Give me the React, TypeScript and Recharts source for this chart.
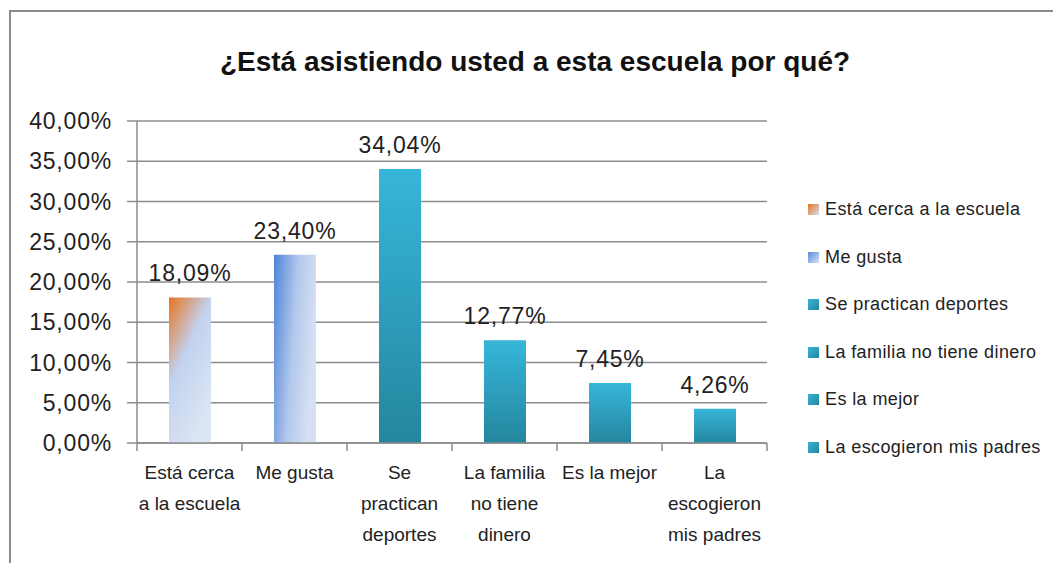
import React from 'react';
import { BarChart, Bar, XAxis, YAxis, CartesianGrid, Cell, LabelList, Legend } from 'recharts';

const categories = [
  'Está cerca a la escuela',
  'Me gusta',
  'Se practican deportes',
  'La familia no tiene dinero',
  'Es la mejor',
  'La escogieron mis padres',
];
const tickLines = [
  ['Está cerca', 'a la escuela'],
  ['Me gusta'],
  ['Se', 'practican', 'deportes'],
  ['La familia', 'no tiene', 'dinero'],
  ['Es la mejor'],
  ['La', 'escogieron', 'mis padres'],
];
const values = [18.09, 23.4, 34.04, 12.77, 7.45, 4.26];
const yTicks = [0, 5, 10, 15, 20, 25, 30, 35, 40];
const fills = ['url(#gOrange)', 'url(#gBlue)', 'url(#gTeal)', 'url(#gTeal)', 'url(#gTeal)', 'url(#gTeal)'];

const data = categories.map((name, i) => ({ name, value: values[i], idx: i }));

const font = '"Liberation Sans", Arial, sans-serif';
const pct = (v: number) => v.toFixed(2).replace('.', ',') + '%';

const XTick = (props: any) => {
  const { x, y, index, width } = props;
  const lines = tickLines[index] || [];
  const half = width / tickLines.length / 2;
  return (
    <g>
      <line x1={x - half} x2={x - half} y1={y - 8} y2={y} stroke="#8c8c8c" strokeWidth={1.5} />
      {index === tickLines.length - 1 && (
        <line x1={x + half} x2={x + half} y1={y - 8} y2={y} stroke="#8c8c8c" strokeWidth={1.5} />
      )}
      {lines.map((l, k) => (
        <text key={k} x={x} y={y + 28 + k * 31} textAnchor="middle" fontSize={19} fill="#222" fontFamily={font}>
          {l}
        </text>
      ))}
    </g>
  );
};

const LegendBox = () => (
  <div style={{ fontFamily: font, fontSize: 18, letterSpacing: 0.4, color: '#222' }}>
    {categories.map((c, i) => (
      <div key={c} style={{ display: 'flex', alignItems: 'center', height: 47.5 }}>
        <svg width={11} height={11} style={{ marginRight: 6 }}>
          <defs>
            <linearGradient id={'lg' + i} x1="0" y1="0" x2="1" y2="1">
              <stop offset="0" stopColor={i === 0 ? '#e8731f' : i === 1 ? '#5a8bd9' : '#36b6da'} />
              <stop offset="1" stopColor={i < 2 ? '#d5e0f2' : '#25869e'} />
            </linearGradient>
          </defs>
          <rect width={11} height={11} fill={'url(#lg' + i + ')'} />
        </svg>
        {c}
      </div>
    ))}
  </div>
);

export default function App() {
  return (
    <div style={{ position: 'absolute', left: 0, top: 0, width: 1053, height: 563, background: '#fff', overflow: 'hidden' }}>
      <div style={{ position: 'absolute', left: 9, top: 10, width: 1100, height: 600, borderTop: '2px solid #8a8a8a', borderLeft: '2px solid #8a8a8a' }} />
      <div style={{ position: 'absolute', left: 0, width: 1070, top: 46, textAlign: 'center', fontFamily: font, fontSize: 28, fontWeight: 'bold', color: '#111' }}>
        ¿Está asistiendo usted a esta escuela por qué?
      </div>
      <div style={{ position: 'absolute', left: 0, top: 0 }}>
        <BarChart width={1053} height={563} data={data} margin={{ top: 121, right: 41, bottom: 0, left: 10 }}>
          <defs>
            <linearGradient id="gOrange" x1="0" y1="0" x2="0.6" y2="1">
              <stop offset="0" stopColor="#e8731f" />
              <stop offset="0.45" stopColor="#c2d2ee" />
              <stop offset="1" stopColor="#dce5f4" />
            </linearGradient>
            <linearGradient id="gBlue" x1="0" y1="0" x2="1" y2="0.3">
              <stop offset="0" stopColor="#4f84d8" />
              <stop offset="0.55" stopColor="#b3c8ec" />
              <stop offset="1" stopColor="#d5e0f2" />
            </linearGradient>
            <linearGradient id="gTeal" x1="0" y1="0" x2="0" y2="1">
              <stop offset="0" stopColor="#36b6da" />
              <stop offset="1" stopColor="#25869e" />
            </linearGradient>
          </defs>
          <CartesianGrid vertical={false} stroke="#8c8c8c" strokeWidth={1.5} />
          <XAxis
            dataKey="name"
            tick={<XTick />}
            interval={0}
            stroke="#8c8c8c"
            strokeWidth={1.5}
            tickLine={false}
            height={120}
          />
          <YAxis
            domain={[0, 40]}
            ticks={yTicks}
            interval={0}
            tickFormatter={pct}
            width={127}
            stroke="#8c8c8c"
            strokeWidth={1.5}
            tickSize={10}
            tickMargin={15}
            tick={{ fontSize: 23, fill: '#222', fontFamily: font, letterSpacing: 0.8 }}
          />
          <Legend
            layout="vertical"
            verticalAlign="top"
            align="right"
            content={<LegendBox />}
            wrapperStyle={{ left: 808, top: 186, width: 245 }}
          />
          <Bar dataKey="value" barSize={42} isAnimationActive={false}>
            {data.map((d) => (
              <Cell key={d.name} fill={fills[d.idx]} />
            ))}
            <LabelList dataKey="value" position="top" offset={16} formatter={(v: any) => pct(Number(v))} style={{ fontSize: 23, fill: '#222', fontFamily: font, letterSpacing: 0.8 }} />
          </Bar>
        </BarChart>
      </div>
    </div>
  );
}
